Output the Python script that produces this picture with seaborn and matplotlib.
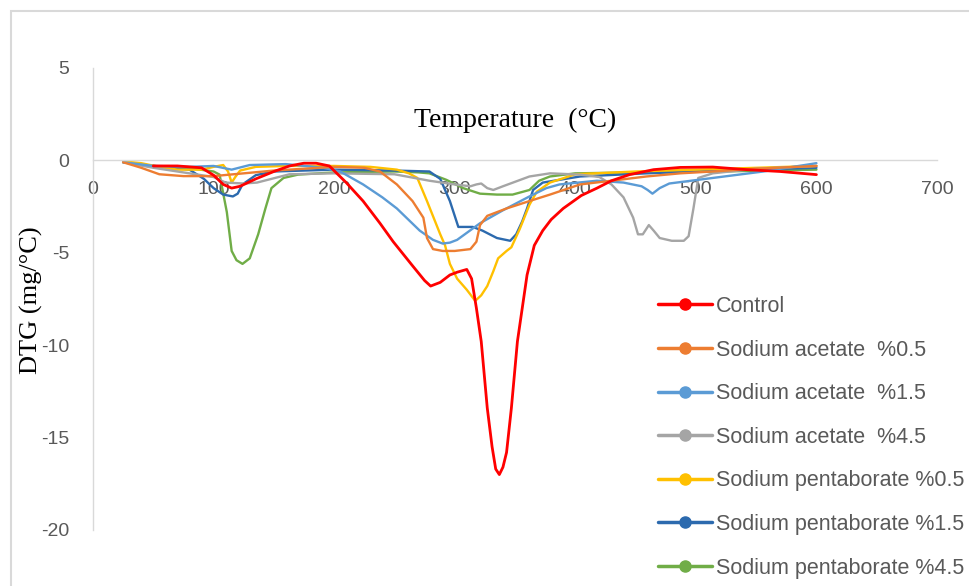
import numpy as np
import pandas as pd
import matplotlib
matplotlib.use("Agg")
import matplotlib.pyplot as plt
from matplotlib.lines import Line2D
from matplotlib.patches import Rectangle
import seaborn as sns

# ---------------- data ----------------
series_names = [
    "Control",
    "Sodium acetate  %0.5",
    "Sodium acetate  %1.5",
    "Sodium acetate  %4.5",
    "Sodium pentaborate %0.5",
    "Sodium pentaborate %1.5",
    "Sodium pentaborate %4.5",
]
series_colors = ["#FF0000", "#ED7D31", "#5B9BD5", "#A5A5A5", "#FFC000", "#2C6AAE", "#70AD47"]

control_T = [50, 70, 90, 100, 108, 115, 122, 135, 150, 163, 175, 185, 196, 210, 224, 238, 249, 265,
             275, 280, 288, 296, 302, 310, 314, 318, 322, 327, 331, 334, 337, 340, 343, 347, 352,
             360, 366, 373, 380, 390, 405, 418, 430, 445, 465, 487, 514, 542, 570, 600]
control_D = [-0.3, -0.3, -0.4, -0.8, -1.3, -1.5, -1.4, -1.0, -0.6, -0.3, -0.15, -0.15, -0.3, -1.2,
             -2.2, -3.4, -4.4, -5.7, -6.5, -6.8, -6.6, -6.2, -6.05, -5.9, -6.4, -8.0, -9.8, -13.4,
             -15.5, -16.7, -17.0, -16.6, -15.8, -13.4, -9.8, -6.2, -4.6, -3.8, -3.2, -2.6, -1.9,
             -1.5, -1.1, -0.77, -0.5, -0.38, -0.36, -0.5, -0.6, -0.77]

acet05_T = [25, 40, 55, 75, 100, 125, 150, 175, 200, 225, 238, 252, 265, 274, 277, 282, 290, 300,
            313, 318, 321, 327, 343, 362, 379, 404, 430, 459, 487, 514, 550, 600]
acet05_D = [-0.1, -0.4, -0.75, -0.85, -0.85, -0.7, -0.55, -0.45, -0.35, -0.4, -0.6, -1.3, -2.2,
            -3.1, -4.2, -4.8, -4.9, -4.9, -4.8, -4.4, -3.5, -3.0, -2.6, -2.2, -1.85, -1.3, -1.1,
            -0.87, -0.7, -0.6, -0.45, -0.3]

acet15_T = [25, 50, 80, 100, 115, 130, 160, 191, 205, 224, 240, 252, 271, 282, 290, 296, 302, 321,
            340, 362, 376, 387, 418, 440, 455, 460, 464, 470, 478, 514, 556, 600]
acet15_D = [-0.1, -0.3, -0.35, -0.3, -0.5, -0.25, -0.2, -0.4, -0.6, -1.3, -2.0, -2.6, -3.8, -4.3,
            -4.5, -4.45, -4.3, -3.4, -2.7, -1.95, -1.5, -1.3, -1.1, -1.2, -1.4, -1.6, -1.8, -1.5,
            -1.25, -0.95, -0.6, -0.15]

acet45_T = [25, 50, 80, 100, 110, 125, 136, 163, 200, 250, 279, 300, 313, 318, 322, 327, 332, 340,
            362, 379, 404, 420, 430, 440, 448, 452, 456, 461, 465, 470, 480, 490, 494, 498, 502,
            514, 550, 600]
acet45_D = [-0.1, -0.4, -0.7, -0.9, -1.2, -1.25, -1.2, -0.75, -0.7, -0.75, -1.1, -1.3, -1.4, -1.3,
            -1.25, -1.5, -1.6, -1.4, -0.87, -0.7, -0.77, -0.9, -1.3, -2.0, -3.1, -4.0, -4.0,
            -3.5, -3.8, -4.2, -4.35, -4.35, -4.1, -2.6, -0.95, -0.7, -0.45, -0.3]

penta05_T = [25, 40, 55, 70, 90, 100, 108, 112, 115, 118, 122, 135, 160, 200, 230, 252, 262, 269,
             277, 288, 292, 296, 302, 310, 317, 322, 327, 332, 336, 343, 347, 354, 362, 368, 379,
             400, 450, 500, 600]
penta05_D = [-0.05, -0.15, -0.35, -0.5, -0.5, -0.35, -0.25, -0.6, -1.2, -0.9, -0.55, -0.35, -0.3,
             -0.3, -0.35, -0.5, -0.7, -0.95, -2.2, -4.0, -4.6, -5.6, -6.4, -7.0, -7.6, -7.3, -6.8,
             -6.0, -5.3, -4.9, -4.7, -3.7, -2.4, -1.7, -1.2, -0.75, -0.6, -0.5, -0.3]

penta15_T = [25, 50, 80, 92, 100, 108, 116, 120, 124, 135, 150, 200, 250, 279, 288, 296, 303, 315,
             323, 335, 346, 351, 356, 360, 365, 373, 404, 459, 520, 600]
penta15_D = [-0.1, -0.3, -0.5, -1.0, -1.5, -1.85, -1.95, -1.8, -1.3, -0.8, -0.6, -0.5, -0.55, -0.6,
             -1.0, -2.2, -3.6, -3.6, -3.8, -4.2, -4.35, -4.0, -3.3, -2.6, -1.6, -1.2, -0.87, -0.7,
             -0.55, -0.4]

penta45_T = [25, 50, 78, 100, 105, 111, 115, 119, 124, 130, 137, 143, 148, 158, 170, 200, 250, 270,
             279, 293, 307, 321, 335, 348, 362, 370, 379, 400, 450, 520, 600]
penta45_D = [-0.1, -0.3, -0.4, -0.6, -0.77, -2.8, -4.9, -5.4, -5.6, -5.3, -4.0, -2.6, -1.5, -0.95,
             -0.77, -0.65, -0.6, -0.65, -0.7, -1.05, -1.5, -1.8, -1.85, -1.85, -1.6, -1.1, -0.87,
             -0.7, -0.65, -0.6, -0.5]

x_ticks = [0, 100, 200, 300, 400, 500, 600, 700]
y_ticks = [5, 0, -5, -10, -15, -20]
title_text = "Temperature  (°C)"
ylabel_text = "DTG (mg/°C)"

# ---------------- build long table ----------------
all_T = [control_T, acet05_T, acet15_T, acet45_T, penta05_T, penta15_T, penta45_T]
all_D = [control_D, acet05_D, acet15_D, acet45_D, penta05_D, penta15_D, penta45_D]
frames = []
for name, t, d in zip(series_names, all_T, all_D):
    frames.append(pd.DataFrame({"T": t, "DTG": d, "series": name}))
df = pd.concat(frames, ignore_index=True)

sns.set_theme(style="white")
plt.rcParams["font.family"] = ["Liberation Sans", "DejaVu Sans"]
plt.rcParams["axes.unicode_minus"] = False

W, H = 969, 586
fig = plt.figure(figsize=(W / 100, H / 100), dpi=100)
ax = fig.add_axes([93 / W, 1 - 530 / H, (937 - 93) / W, (530 - 68) / H])

palette = dict(zip(series_names, series_colors))
# draw in reverse so Control is on top
for name in reversed(series_names):
    sub = df[df["series"] == name]
    sns.lineplot(data=sub, x="T", y="DTG", color=palette[name], sort=False,
                 estimator=None, linewidth=2.0 if name == "Control" else 1.7,
                 ax=ax, legend=False)

ax.set_xlim(0, 700)
ax.set_ylim(-20, 5)
ax.set_xticks(x_ticks)
ax.set_yticks(y_ticks)
ax.set_xlabel("")
ax.set_ylabel("")
for s in ["top", "right"]:
    ax.spines[s].set_visible(False)
ax.spines["bottom"].set_position(("data", 0))
ax.spines["left"].set_position(("data", 0))
for s in ["bottom", "left"]:
    ax.spines[s].set_color("#D9D9D9")
    ax.spines[s].set_linewidth(1.0)
ax.tick_params(axis="both", length=0, labelsize=14, labelcolor="#595959")
ax.tick_params(axis="x", pad=15)
ax.tick_params(axis="y", pad=17)
ax.grid(False)
ax.patch.set_alpha(0)

fig.text(515 / W, 1 - 120 / H, title_text, ha="center", va="center",
         fontsize=20, family="Liberation Serif", color="black")
fig.text(31 / W, 1 - 300 / H, ylabel_text, ha="center", va="center", rotation=90,
         fontsize=19, family="Liberation Serif", color="black")

# outer chart border (partly outside the image)
fig.patches.append(Rectangle((11 / W, -0.2), 1.2, 1.2 - 11 / H, transform=fig.transFigure,
                             fill=False, edgecolor="#D9D9D9", linewidth=1.5))

handles = [Line2D([], [], color=c, lw=2.5, marker="o", markersize=8) for c in series_colors]
leg = fig.legend(handles, series_names, loc="upper left",
                 bbox_to_anchor=(658 / W, 1 - 296 / H), bbox_transform=fig.transFigure,
                 frameon=False, borderpad=0, borderaxespad=0, handlelength=2.5,
                 handletextpad=0.2, labelspacing=1.05, fontsize=15.5)
for t in leg.get_texts():
    t.set_color("#595959")

fig.savefig("out.png", dpi=100)
